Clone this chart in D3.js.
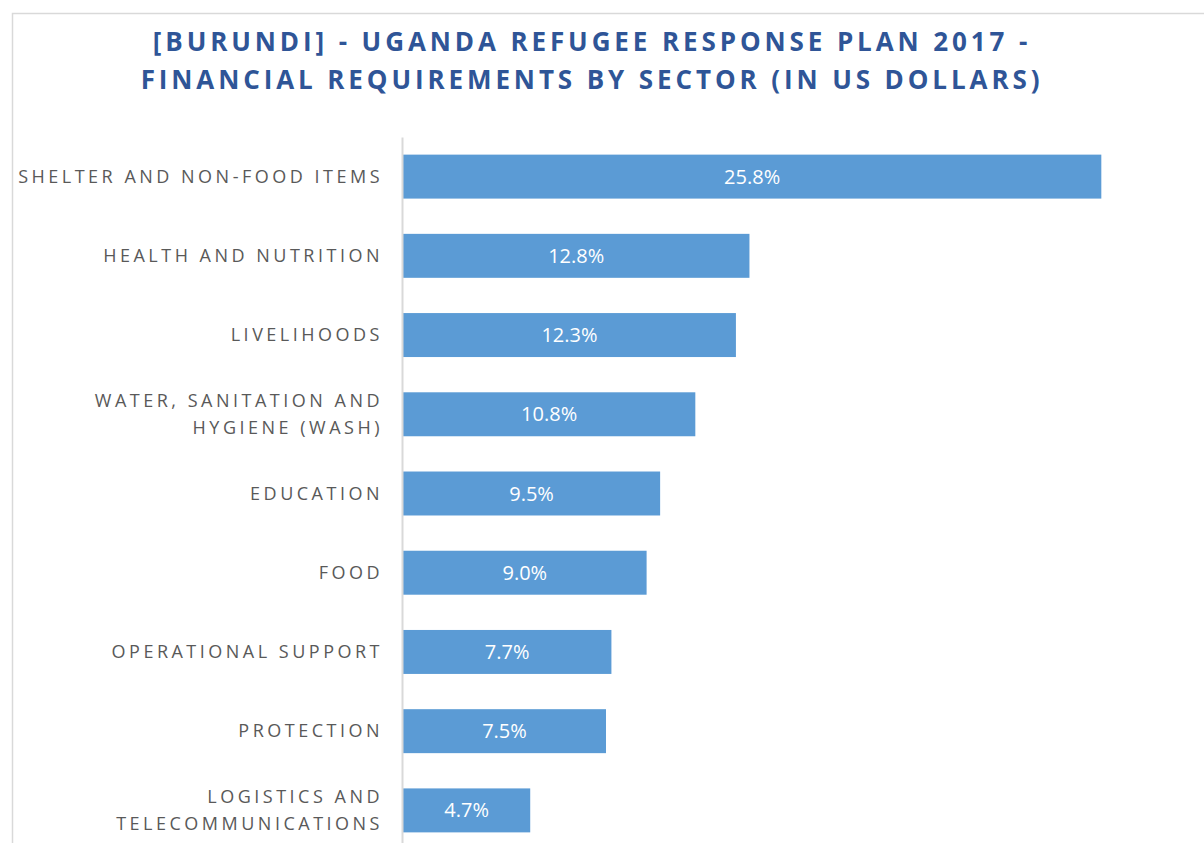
<!DOCTYPE html>
<html>
<head>
<meta charset="utf-8">
<script src="https://cdnjs.cloudflare.com/ajax/libs/d3/7.8.5/d3.min.js"></script>
<style>
  body { margin: 0; background: #fff; }
  svg { display: block; }
</style>
</head>
<body>
<div id="chart"></div>
<script>
var titleLines = ['[BURUNDI] - UGANDA REFUGEE RESPONSE PLAN 2017 -',
                  'FINANCIAL REQUIREMENTS BY SECTOR (IN US DOLLARS)'];

var sectors = [
  ['SHELTER AND NON-FOOD ITEMS'],
  ['HEALTH AND NUTRITION'],
  ['LIVELIHOODS'],
  ['WATER, SANITATION AND', 'HYGIENE (WASH)'],
  ['EDUCATION'],
  ['FOOD'],
  ['OPERATIONAL SUPPORT'],
  ['PROTECTION'],
  ['LOGISTICS AND', 'TELECOMMUNICATIONS']
];
var shares = [25.8, 12.8, 12.3, 10.8, 9.5, 9.0, 7.7, 7.5, 4.7];

var W = 1204, H = 843;
var margin = { top: 137, left: 403 };
var plotW = 812, plotH = 713;

var svg = d3.select('#chart').append('svg')
    .attr('width', W)
    .attr('height', H);

// chart frame
svg.append('rect')
    .attr('x', 12.5).attr('y', 13.5)
    .attr('width', 1300).attr('height', 1000)
    .attr('fill', 'none')
    .attr('stroke', '#d9d9d9')
    .attr('stroke-width', 1.5);

svg.selectAll('.title')
    .data(titleLines)
    .enter().append('text')
    .attr('class', 'title')
    .attr('x', 592)
    .attr('y', function(d, i) { return 51 + i * 38; })
    .attr('text-anchor', 'middle')
    .style('font-family', '"Open Sans", sans-serif')
    .style('font-weight', 'bold')
    .style('font-size', '26px')
    .style('letter-spacing', '3.9px')
    .attr('fill', '#2f5597')
    .text(function(d) { return d; });

var g = svg.append('g')
    .attr('transform', 'translate(' + margin.left + ',' + margin.top + ')');

var x = d3.scaleLinear()
    .domain([0, 30])
    .range([0, plotW]);

var y = d3.scaleBand()
    .domain(d3.range(sectors.length))
    .range([0, plotH])
    .paddingInner(0.445)
    .paddingOuter(0.2225);

g.selectAll('.bar')
    .data(shares)
    .enter().append('rect')
    .attr('class', 'bar')
    .attr('x', x(0))
    .attr('y', function(d, i) { return y(i); })
    .attr('width', function(d) { return x(d); })
    .attr('height', y.bandwidth())
    .attr('fill', '#5b9bd5');

g.selectAll('.val')
    .data(shares)
    .enter().append('text')
    .attr('class', 'val')
    .attr('x', function(d) { return x(d) / 2; })
    .attr('y', function(d, i) { return y(i) + y.bandwidth() / 2; })
    .attr('dy', '0.35em')
    .attr('text-anchor', 'middle')
    .style('font-family', '"Open Sans", sans-serif')
    .style('font-size', '20px')
    .attr('fill', '#fff')
    .text(function(d) { return d.toFixed(1) + '%'; });

// category axis, labels drawn by hand for wrapping + letter spacing
var yAxis = g.append('g')
    .attr('transform', 'translate(-1,0)')
    .call(d3.axisLeft(y).tickSize(0).tickFormat(''));
yAxis.select('.domain')
    .attr('stroke', '#d9d9d9')
    .attr('stroke-width', 2);

var labels = g.selectAll('.cat')
    .data(sectors)
    .enter().append('text')
    .attr('class', 'cat')
    .attr('text-anchor', 'end')
    .style('font-family', '"Open Sans", sans-serif')
    .style('font-size', '18px')
    .style('letter-spacing', '3.5px')
    .attr('fill', '#595959')
    .attr('transform', function(d, i) {
      return 'translate(-20,' + (y(i) + y.bandwidth() / 2) + ')';
    });

labels.selectAll('tspan')
    .data(function(d) { return d; })
    .enter().append('tspan')
    .attr('x', 0)
    .attr('y', function(d, j, nodes) { return (j - (nodes.length - 1) / 2) * 27; })
    .attr('dy', '0.35em')
    .text(function(d) { return d; });
</script>
</body>
</html>
